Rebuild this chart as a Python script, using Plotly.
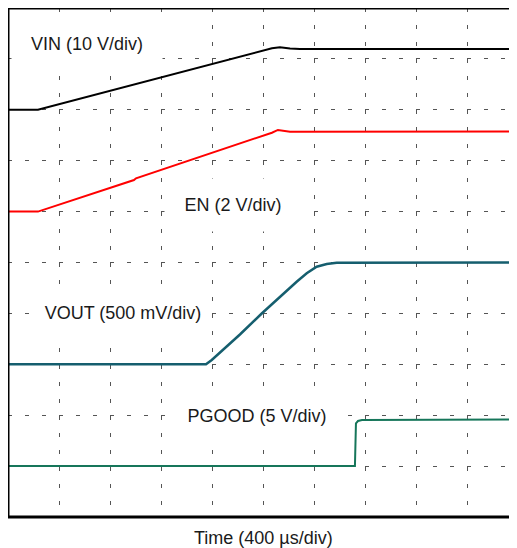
import plotly.graph_objects as go

# ---- data (time in microseconds, channel values in volts) ----
vin_t = [0, 235, 2070, 2133, 2212, 2290, 4000]
vin_v = [0, 0, 12.08, 12.28, 12.04, 11.94, 11.94]

en_t = [0, 235, 988, 1004, 2070, 2117, 2212, 4000]
en_v = [0, 0, 1.24, 1.31, 3.10, 3.21, 3.14, 3.15]

vout_t = [0, 1553, 1598, 1715, 1819, 1990, 2133, 2264, 2343, 2421, 2500, 2578, 4000]
vout_v = [0, 0, 0.042, 0.173, 0.293, 0.499, 0.664, 0.811, 0.894, 0.959, 0.985, 0.998, 1.0]

pg_t = [0, 2721, 2729, 2745, 2776, 4000]
pg_v = [0, 0, 4.2, 4.43, 4.53, 4.58]

# channel settings: (name, label, volts/div, ground position in divisions)
channels = [
    ("VIN", "VIN (10 V/div)", 10.0, 8),
    ("EN", "EN (2 V/div)", 2.0, 6),
    ("VOUT", "VOUT (500 mV/div)", 0.5, 3),
    ("PGOOD", "PGOOD (5 V/div)", 5.0, 1),
]
time_per_div = 400
n_div = 10

# ---- styling ----
colors = ["#000000", "#ff0000", "#155e6e", "#16765a"]
widths = [2, 2, 2.5, 2]
label_pos = [(619, 9.29), (1768, 6.13), (902, 4.01), (1953, 1.98)]
label_box = [(150, 56), (136, 52), (176, 56), (170, 54)]

series = [(vin_t, vin_v), (en_t, en_v), (vout_t, vout_v), (pg_t, pg_v)]

fig = go.Figure()
layout_axes = {}
for i, ((name, label, vdiv, gnd), (t, v)) in enumerate(zip(channels, series)):
    ax = f"y{i + 2}"
    fig.add_trace(go.Scatter(x=t, y=v, mode="lines", name=name, yaxis=ax,
                             line=dict(color=colors[i], width=widths[i]),
                             showlegend=False, hoverinfo="skip"))
    layout_axes[f"yaxis{i + 2}"] = dict(
        overlaying="y", range=[-gnd * vdiv, (n_div - gnd) * vdiv],
        visible=False, showgrid=False, zeroline=False, fixedrange=True)

font = "Liberation Sans, Arial, Helvetica, sans-serif"
annotations = []
for (name, label, vdiv, gnd), (lx, ly), (bw, bh) in zip(channels, label_pos, label_box):
    annotations.append(dict(x=lx, y=ly, xref="x", yref="y", text=label,
                            showarrow=False, xanchor="center", yanchor="middle",
                            font=dict(family=font, size=18, color="#1a1a1a"),
                            bgcolor="white", width=bw, height=bh, borderpad=0))
annotations.append(dict(x=0.5, y=0, xref="paper", yref="paper",
                        text="Time (400 µs/div)", showarrow=False,
                        xanchor="center", yanchor="middle", yshift=-21,
                        font=dict(family=font, size=18, color="#1a1a1a")))

border = dict(type="line", xref="paper", yref="paper", line=dict(color="black", width=3), layer="above")
shapes = [
    dict(border, x0=0, x1=0, y0=0, y1=1),
    dict(border, x0=0, x1=1, y0=1, y1=1),
    dict(border, x0=0, x1=1, y0=0, y1=0),
]

fig.update_layout(
    width=517, height=548,
    margin=dict(l=0, r=7, t=0, b=39),
    paper_bgcolor="white", plot_bgcolor="white",
    xaxis=dict(range=[0, n_div * time_per_div], dtick=time_per_div, tick0=0,
               showgrid=True, gridcolor="#555555", gridwidth=1, griddash="4px,13px",
               showticklabels=False, ticks="", zeroline=False, showline=False,
               fixedrange=True),
    yaxis=dict(range=[0, n_div], dtick=1, tick0=0,
               showgrid=True, gridcolor="#555555", gridwidth=1, griddash="4px,13px",
               showticklabels=False, ticks="", zeroline=False, showline=False,
               fixedrange=True),
    annotations=annotations,
    shapes=shapes,
    **layout_axes,
)

fig.write_html("out.html")
